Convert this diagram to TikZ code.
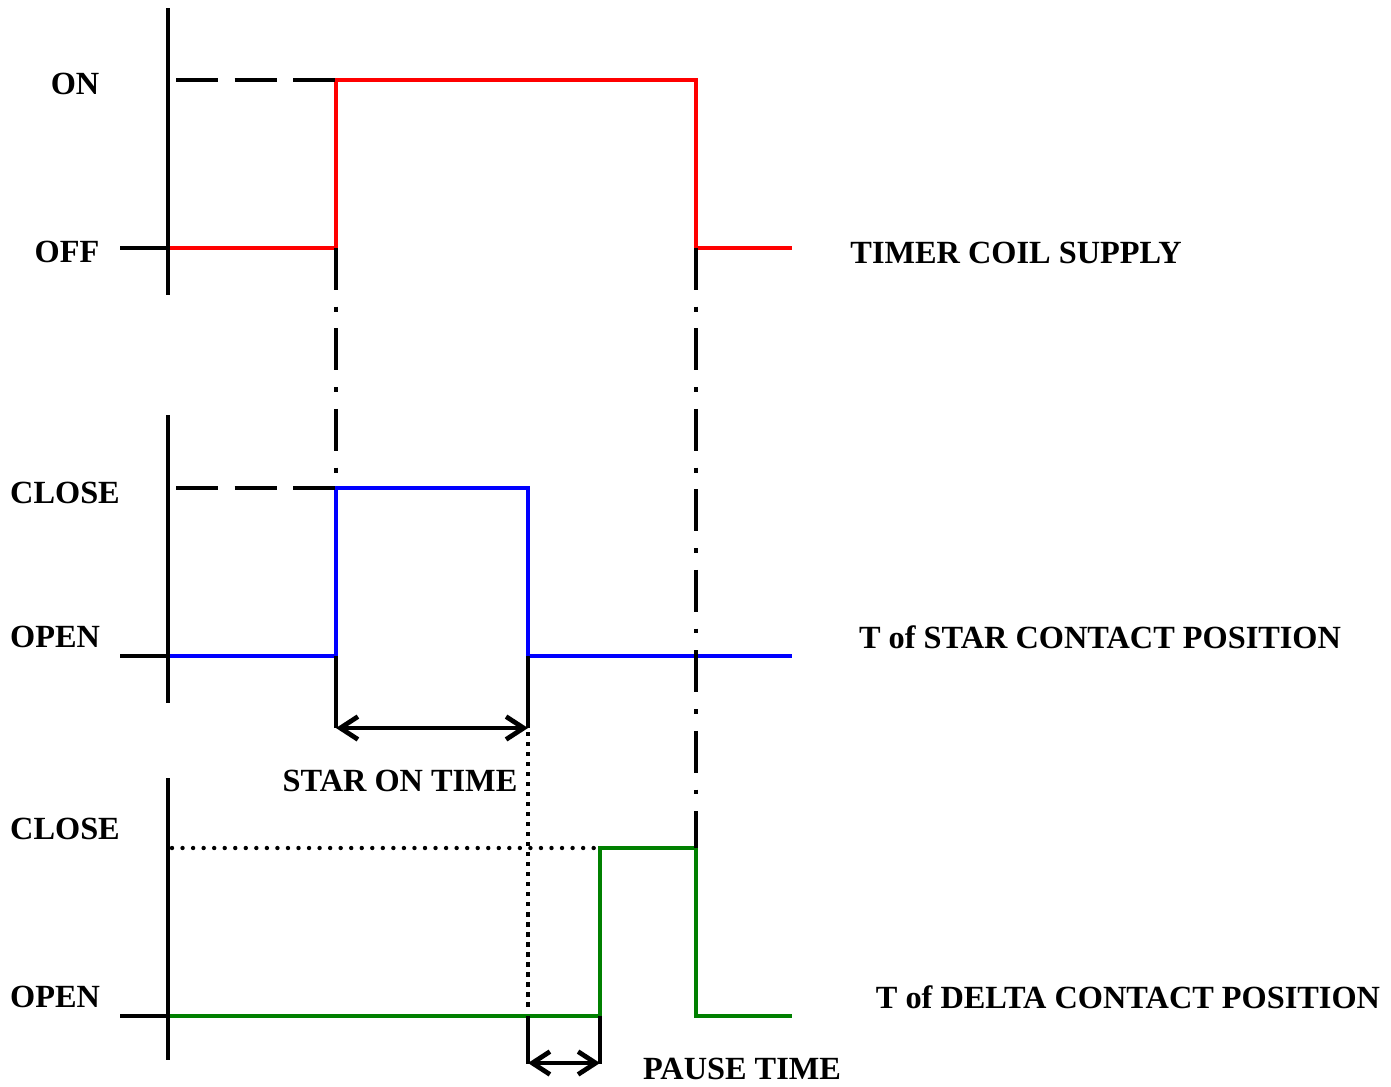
\documentclass[tikz,border=0pt]{standalone}
\usepackage{fontspec}
\setmainfont{Liberation Serif}
\usepackage{tikz}
\usetikzlibrary{arrows.meta}
\definecolor{coilred}{RGB}{255, 0, 0}
\definecolor{starblue}{RGB}{0, 0, 255}
\definecolor{deltagreen}{RGB}{0, 128, 0}
\tikzset{
	axisline/.style={line width=2.7pt},
	sigline/.style={line width=2.7pt, line join=miter},
	levelmark/.style={line width=2.7pt, dash pattern=on 23.8pt off 9.6pt},
	dashdotline/.style={line width=2.7pt, dash pattern=on 23.8pt off 9.6pt on 2.8pt off 9.6pt},
	sqdots/.style={line width=2.7pt, dash pattern=on 2.4pt off 3.3pt},
	rounddots/.style={line width=2.5pt, line cap=round, dash pattern=on 0pt off 6pt},
	spanarrow/.style={line width=2.7pt, {Straight Barb[length=10pt,width=13pt]}-{Straight Barb[length=10pt,width=13pt]}},
	lbl/.style={font=\fontsize{18.4}{21}\selectfont\bfseries, inner sep=0pt}
}

\begin{document}
\begin{tikzpicture}[x=0.02cm, y=-0.02cm]
	\useasboundingbox (0,0) rectangle (1391,1086);
	% signals
	\draw[sigline, coilred] (168,248) -- (336,248) -- (336,80) -- (696,80) -- (696,248) -- (792,248);
	\draw[sigline, starblue] (168,656) -- (336,656) -- (336,488) -- (528,488) -- (528,656) -- (792,656);
	\draw[sigline, deltagreen] (168,1016) -- (600,1016) -- (600,848) -- (696,848) -- (696,1016) -- (792,1016);
	% axes
	\draw[axisline] (168,8) -- (168,295);
	\draw[axisline] (120,248) -- (168,248);
	\draw[axisline] (168,415) -- (168,703);
	\draw[axisline] (120,656) -- (168,656);
	\draw[axisline] (168,778) -- (168,1060);
	\draw[axisline] (120,1016) -- (168,1016);
	% levels
	\draw[levelmark] (176,80) -- (336,80);
	\draw[levelmark] (176,488) -- (336,488);
	\draw[rounddots] (172,848) -- (600,848);
	% switching instants
	\draw[dashdotline] (336,248) -- (336,488);
	\draw[dashdotline] (696,248) -- (696,848);
	\draw[sqdots] (528,732) -- (528,1012);
	% star on time
	\draw[axisline] (336,656) -- (336,728);
	\draw[axisline] (528,656) -- (528,728);
	\draw[spanarrow] (336,728) -- (528,728);
	% pause time
	\draw[axisline] (528,1016) -- (528,1064);
	\draw[axisline] (600,1016) -- (600,1064);
	\draw[spanarrow] (528,1063) -- (600,1063);
	% labels
	\node[lbl] (on) at (75,84) {ON};
	\node[lbl] (off) at (67,252) {OFF};
	\node[lbl] (starclose) at (65,493) {CLOSE};
	\node[lbl] (staropen) at (55,637) {OPEN};
	\node[lbl] (deltaclose) at (65,829) {CLOSE};
	\node[lbl] (deltaopen) at (55,997) {OPEN};
	\node[lbl] (coil) at (1016,253) {TIMER COIL SUPPLY};
	\node[lbl] (starpos) at (1100,637) {T of STAR CONTACT POSITION};
	\node[lbl] (deltapos) at (1128,997) {T of DELTA CONTACT POSITION};
	\node[lbl] (starontime) at (400,781) {STAR ON TIME};
	\node[lbl] (pausetime) at (742,1069) {PAUSE TIME};
\end{tikzpicture}
\end{document}
